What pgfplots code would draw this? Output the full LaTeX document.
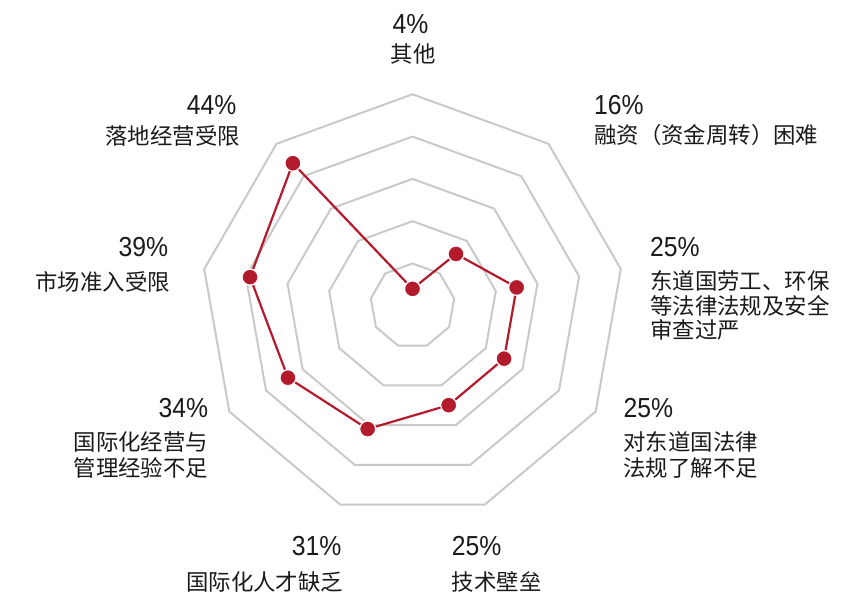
\documentclass[border=0pt]{standalone}
\usepackage{fontspec}
\usepackage{pgfplots}
\pgfplotsset{compat=1.18}
\newfontfamily\cjk{Noto Sans CJK SC}
\newfontfamily\num[FakeStretch=0.9]{Liberation Sans}
\definecolor{gridgray}{HTML}{C9C9C9}
\definecolor{radarred}{HTML}{B31B2C}
\definecolor{txt}{HTML}{1A1A1A}
\newcommand\numfont{\num\fontsize{27.5bp}{30bp}\selectfont}
\newcommand\cjkfont{\cjk\fontsize{22.4bp}{26bp}\selectfont}
\newcommand\NL[3]{\node[anchor=base west,inner sep=0,text=txt,font=\numfont] at (#1bp,595bp-#2bp) {#3};}
\newcommand\NR[3]{\node[anchor=base east,inner sep=0,text=txt,font=\numfont] at (#1bp,595bp-#2bp) {#3};}
\newcommand\NC[3]{\node[anchor=base,inner sep=0,text=txt,font=\numfont] at (#1bp,595bp-#2bp) {#3};}
\newcommand\CL[3]{\node[anchor=base west,inner sep=0,text=txt,font=\cjkfont] at (#1bp,595bp-#2bp) {#3};}
\newcommand\CR[3]{\node[anchor=base east,inner sep=0,text=txt,font=\cjkfont] at (#1bp,595bp-#2bp) {#3};}
\newcommand\CC[3]{\node[anchor=base,inner sep=0,text=txt,font=\cjkfont] at (#1bp,595bp-#2bp) {#3};}
\begin{document}
\begin{tikzpicture}
\begin{axis}[
  anchor=south west, at={(0bp,0bp)},
  x=4.23bp, y=4.23bp,
  xmin=-97.52, xmax=106.97, ymin=-68.37, ymax=72.29,
  enlargelimits=false, hide axis, clip=false,
]
% grid rings (nonagons at 10,20,...,50)
\pgfplotsinvokeforeach{10,20,30,40,50}{
\addplot[gridgray, line width=2bp, line join=miter, data cs=polar, mark=none] coordinates {
(90,#1) (50,#1) (10,#1) (-30,#1) (-70,#1) (-110,#1) (-150,#1) (170,#1) (130,#1) (90,#1) (50,#1)};
}
% data series
\addplot[radarred, line width=2.2bp, data cs=polar, mark=*, mark size=8bp,
  mark options={fill=radarred, draw=white, line width=1.2bp}] coordinates {
(90,4) (50,16) (10,25) (-30,25) (-70,25) (-110,31) (-150,34) (170,39) (130,44) (90,4)};
\end{axis}
% labels
\NC{410.5}{33.3}{4\%}
\CC{413}{62.5}{其他}
\NL{594}{114.3}{16\%}
\CL{594}{143.5}{融资（资金周转）困难}
\NL{650}{256.7}{25\%}
\CL{650}{289.8}{东道国劳工、环保}
\CL{650}{314.7}{等法律法规及安全}
\CL{650}{339}{审查过严}
\NL{623.3}{417.7}{25\%}
\CL{623.3}{450.2}{对东道国法律}
\CL{623.3}{476.8}{法规了解不足}
\NL{451.7}{555.7}{25\%}
\CL{451.7}{590.2}{技术壁垒}
\NR{341.7}{555.7}{31\%}
\CR{343.3}{590.2}{国际化人才缺乏}
\NR{208.3}{417.7}{34\%}
\CR{208.3}{450.2}{国际化经营与}
\CR{208.3}{476.8}{管理经验不足}
\NR{168.3}{256.7}{39\%}
\CR{170}{290.2}{市场准入受限}
\NR{236.7}{114.3}{44\%}
\CR{240}{144.2}{落地经营受限}
\pgfresetboundingbox
\path[use as bounding box] (0bp,0bp) rectangle (865bp,595bp);
\end{tikzpicture}
\end{document}
